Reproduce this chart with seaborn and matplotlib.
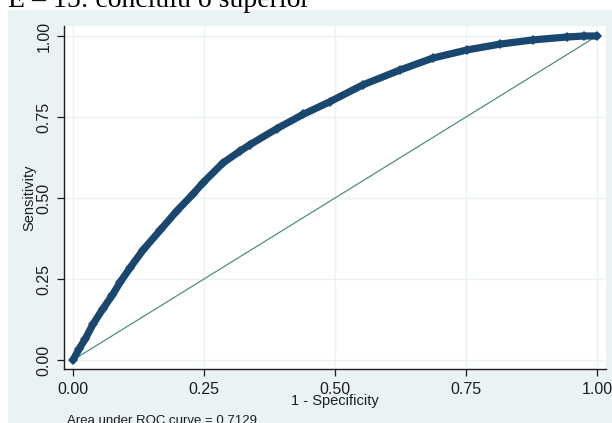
import matplotlib
matplotlib.use("Agg")
import matplotlib.pyplot as plt
import seaborn as sns
import pandas as pd
from matplotlib.patches import Rectangle

# ROC coordinates (1 - specificity, sensitivity)
fpr = [0.0, 0.012, 0.023, 0.038, 0.057, 0.075, 0.09, 0.109, 0.134, 0.166,
       0.198, 0.229, 0.248, 0.286, 0.319, 0.338, 0.389, 0.439, 0.49, 0.553,
       0.624, 0.687, 0.752, 0.815, 0.878, 0.943, 0.975, 1.0]
tpr = [0.0, 0.035, 0.064, 0.11, 0.158, 0.2, 0.24, 0.285, 0.34, 0.40,
       0.46, 0.512, 0.547, 0.608, 0.645, 0.665, 0.714, 0.758, 0.797, 0.849,
       0.895, 0.932, 0.957, 0.975, 0.988, 0.997, 1.0, 1.0]
ref_x = [0.0, 1.0]
ref_y = [0.0, 1.0]
ticks = [0.0, 0.25, 0.5, 0.75, 1.0]
tick_labels = ["0.00", "0.25", "0.50", "0.75", "1.00"]
title = "E – 15: concluiu o superior"
auc_note = "Area under ROC curve = 0.7129"

sns.set_theme(style="white")
plt.rcParams["font.family"] = ["Liberation Sans", "DejaVu Sans"]

navy = "#1a476f"
teal = "#4e8f80"
region = "#eaf2f3"
ink = "#1e1e1e"

fig = plt.figure(figsize=(6.12, 4.23), dpi=100)
fig.patch.set_facecolor("white")
fig.patches.append(Rectangle((8 / 612, 0), 1 - 8 / 612, (423 - 10) / 423,
                             transform=fig.transFigure, facecolor=region,
                             edgecolor="none", zorder=-5))

ax = fig.add_axes([64 / 612, (423 - 369) / 423, 542 / 612, (369 - 26) / 423])
ax.set_zorder(2)
ax.set_facecolor("white")

roc = pd.DataFrame({"fpr": fpr, "tpr": tpr})
diag = pd.DataFrame({"x": ref_x, "y": ref_y})

sns.lineplot(data=diag, x="x", y="y", ax=ax, color=teal, linewidth=0.9,
             zorder=2)
sns.lineplot(data=roc, x="fpr", y="tpr", ax=ax, color=navy, linewidth=5.2,
             marker="D", markersize=5, markeredgewidth=0, zorder=3,
             sort=False)
for ln in ax.lines:
    ln.set_solid_capstyle("round")
    ln.set_solid_joinstyle("round")

ax.set_xlim(-9 / 524, 1 + 9 / 524)
ax.set_ylim(-9 / 324, 1 + 10 / 324)
ax.set_xticks(ticks)
ax.set_yticks(ticks)
ax.set_xticklabels(tick_labels, fontsize=11.5)
ax.set_yticklabels(tick_labels, fontsize=11.5, rotation=90, va="center")
ax.grid(True, color=region, linewidth=1.0)
ax.set_axisbelow(True)

for side in ["top", "right"]:
    ax.spines[side].set_visible(False)
for side in ["left", "bottom"]:
    ax.spines[side].set_color(ink)
    ax.spines[side].set_linewidth(1.0)
ax.tick_params(axis="both", direction="out", length=5, width=0.9,
               color=ink, labelcolor=ink, pad=4,
               bottom=True, left=True)

ax.set_xlabel("1 - Specificity", fontsize=10.5, color=ink, labelpad=-2)
ax.set_ylabel("Sensitivity", fontsize=10.5, color=ink, labelpad=0)

fig.text(67 / 612, (423 - 415) / 423, auc_note, fontsize=9.5, color=ink,
         ha="left", va="top")
fig.text(8 / 612, 1 - 7 / 423, title, fontsize=20, color="black",
         family=["Liberation Serif", "DejaVu Serif"], ha="left",
         va="baseline")

fig.savefig("out.png", dpi=100, facecolor="white")
